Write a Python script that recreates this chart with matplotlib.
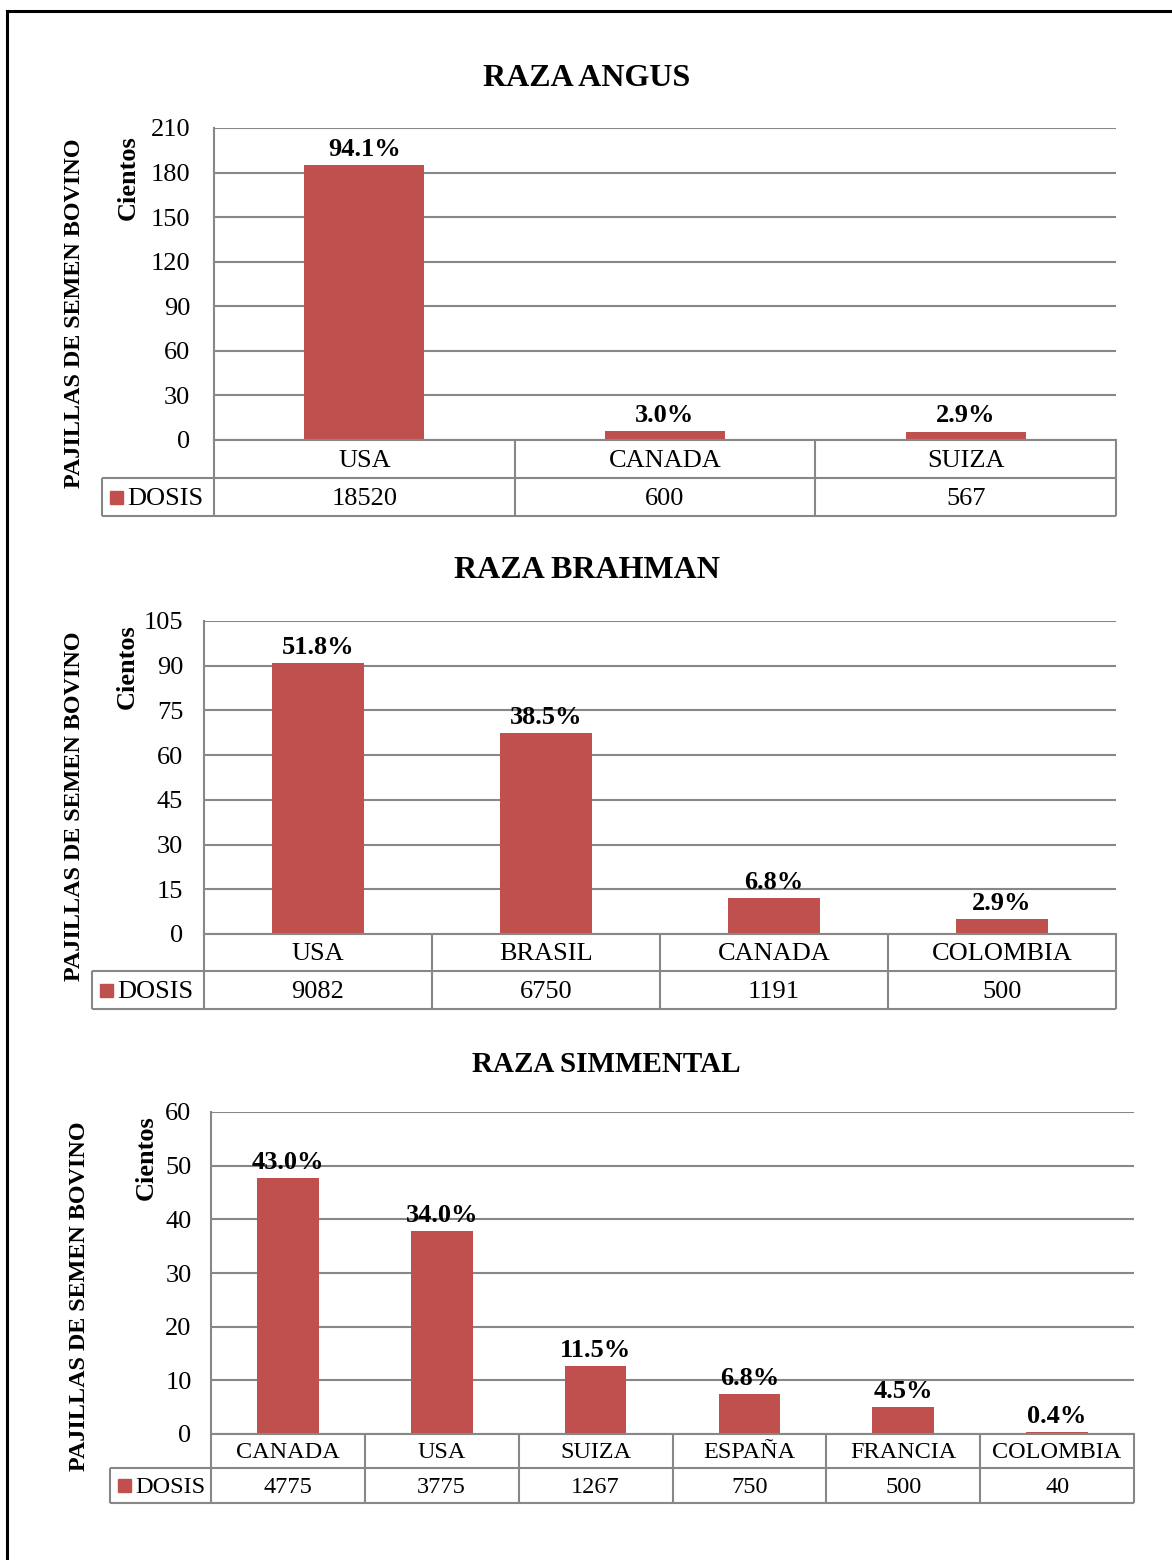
import numpy as np
import matplotlib.pyplot as plt
from matplotlib.patches import Rectangle

plt.rcParams['font.family'] = ['Liberation Serif', 'DejaVu Serif']

# data: dosis de semen importadas por raza y pais (las barras van en cientos)
angus_paises = ["USA", "CANADA", "SUIZA"]
angus_dosis = [18520, 600, 567]
angus_pct = ["94.1%", "3.0%", "2.9%"]

brahman_paises = ["USA", "BRASIL", "CANADA", "COLOMBIA"]
brahman_dosis = [9082, 6750, 1191, 500]
brahman_pct = ["51.8%", "38.5%", "6.8%", "2.9%"]

simmental_paises = ["CANADA", "USA", "SUIZA", "ESPAÑA", "FRANCIA", "COLOMBIA"]
simmental_dosis = [4775, 3775, 1267, 750, 500, 40]
simmental_pct = ["43.0%", "34.0%", "11.5%", "6.8%", "4.5%", "0.4%"]

titulos = ["RAZA ANGUS", "RAZA BRAHMAN", "RAZA SIMMENTAL"]

W, H = 1172, 1560
RED = '#C0504D'
GRID = '#878787'

fig = plt.figure(figsize=(W / 100, H / 100), dpi=100)
bg = fig.add_axes([0, 0, 1, 1], zorder=0)
bg.set_xlim(0, W)
bg.set_ylim(H, 0)
bg.axis('off')

# page frame (left and top)
bg.plot([7, 7], [11, H], color='black', lw=2.2, clip_on=False)
bg.plot([7, W], [11, 11], color='black', lw=2.2, clip_on=False)

# layout per panel in pixels
layout = [
    dict(lab=102, x0=214, x1=1116, ytop=128, yzero=440, r1=478, r2=516, ymax=210, step=30,
         pad=17, tfs=19, ttfs=23, title=(587, 78), ylab=(75, 313), cien=(128, 178)),
    dict(lab=92, x0=204, x1=1116, ytop=621, yzero=934, r1=971, r2=1009, ymax=105, step=15,
         pad=15, tfs=19, ttfs=23, title=(587, 571), ylab=(75, 806), cien=(127, 667)),
    dict(lab=110, x0=211, x1=1134, ytop=1112, yzero=1434, r1=1468, r2=1503, ymax=60, step=10,
         pad=14, tfs=17.5, ttfs=21, title=(606, 1064), ylab=(80, 1296), cien=(146, 1158)),
]

datos = [
    (angus_paises, angus_dosis, angus_pct),
    (brahman_paises, brahman_dosis, brahman_pct),
    (simmental_paises, simmental_dosis, simmental_pct),
]

for (paises, dosis, pct), L, titulo in zip(datos, layout, titulos):
    n = len(paises)
    cientos = np.array(dosis) / 100.0
    ax = fig.add_axes([L['x0'] / W, 1 - L['yzero'] / H,
                       (L['x1'] - L['x0']) / W, (L['yzero'] - L['ytop']) / H], zorder=1)
    ax.patch.set_alpha(0)
    x = np.arange(n)
    ax.bar(x, cientos, width=0.4, color=RED, zorder=2)
    for i in range(n):
        ax.annotate(pct[i], (x[i], cientos[i]), xytext=(0, 3), textcoords='offset points',
                    ha='center', va='bottom', fontsize=19, fontweight='bold')
    ax.set_xlim(-0.5, n - 0.5)
    ax.set_ylim(0, L['ymax'])
    ax.set_yticks(np.arange(0, L['ymax'] + 1, L['step']))
    ax.set_xticks([])
    ax.tick_params(axis='y', length=0, pad=L['pad'], labelsize=19)
    ax.yaxis.grid(True, color=GRID, lw=1.5)
    ax.set_axisbelow(True)
    for s in ['top', 'right']:
        ax.spines[s].set_visible(False)
    ax.spines['left'].set_color(GRID)
    ax.spines['left'].set_linewidth(1.5)
    ax.spines['bottom'].set_color(GRID)
    ax.spines['bottom'].set_linewidth(1.5)

    # data table under the axis
    cw = (L['x1'] - L['x0']) / n
    kw = dict(color=GRID, lw=1.5, solid_capstyle='butt')
    bg.plot([L['x0'], L['x0']], [L['yzero'], L['r2']], **kw)
    bg.plot([L['lab'], L['x1']], [L['r1'], L['r1']], **kw)
    bg.plot([L['lab'], L['x1']], [L['r2'], L['r2']], **kw)
    bg.plot([L['lab'], L['lab']], [L['r1'], L['r2']], **kw)
    for k in range(1, n + 1):
        xb = L['x0'] + k * cw
        bg.plot([xb, xb], [L['yzero'], L['r2']], **kw)
    for i in range(n):
        xc = L['x0'] + (i + 0.5) * cw
        bg.text(xc, (L['yzero'] + L['r1']) / 2 + 2, paises[i], ha='center', va='center',
                fontsize=L['tfs'])
        bg.text(xc, (L['r1'] + L['r2']) / 2 + 2, str(dosis[i]), ha='center', va='center',
                fontsize=L['tfs'])
    ym = (L['r1'] + L['r2']) / 2
    bg.add_patch(Rectangle((L['lab'] + 8, ym - 6.5), 13, 13, color=RED))
    bg.text(L['lab'] + 25, ym + 2, "DOSIS", ha='left', va='center', fontsize=L['tfs'])

    bg.text(*L['title'], titulo, ha='center', va='center', fontsize=L['ttfs'],
            fontweight='bold')
    bg.text(*L['ylab'], "PAJILLAS DE SEMEN BOVINO", ha='center', va='center',
            rotation=90, fontsize=17.4, fontweight='bold')
    bg.text(*L['cien'], "Cientos", ha='center', va='center', rotation=90,
            fontsize=19, fontweight='bold')

fig.savefig("out.png", dpi=100, facecolor='white')
